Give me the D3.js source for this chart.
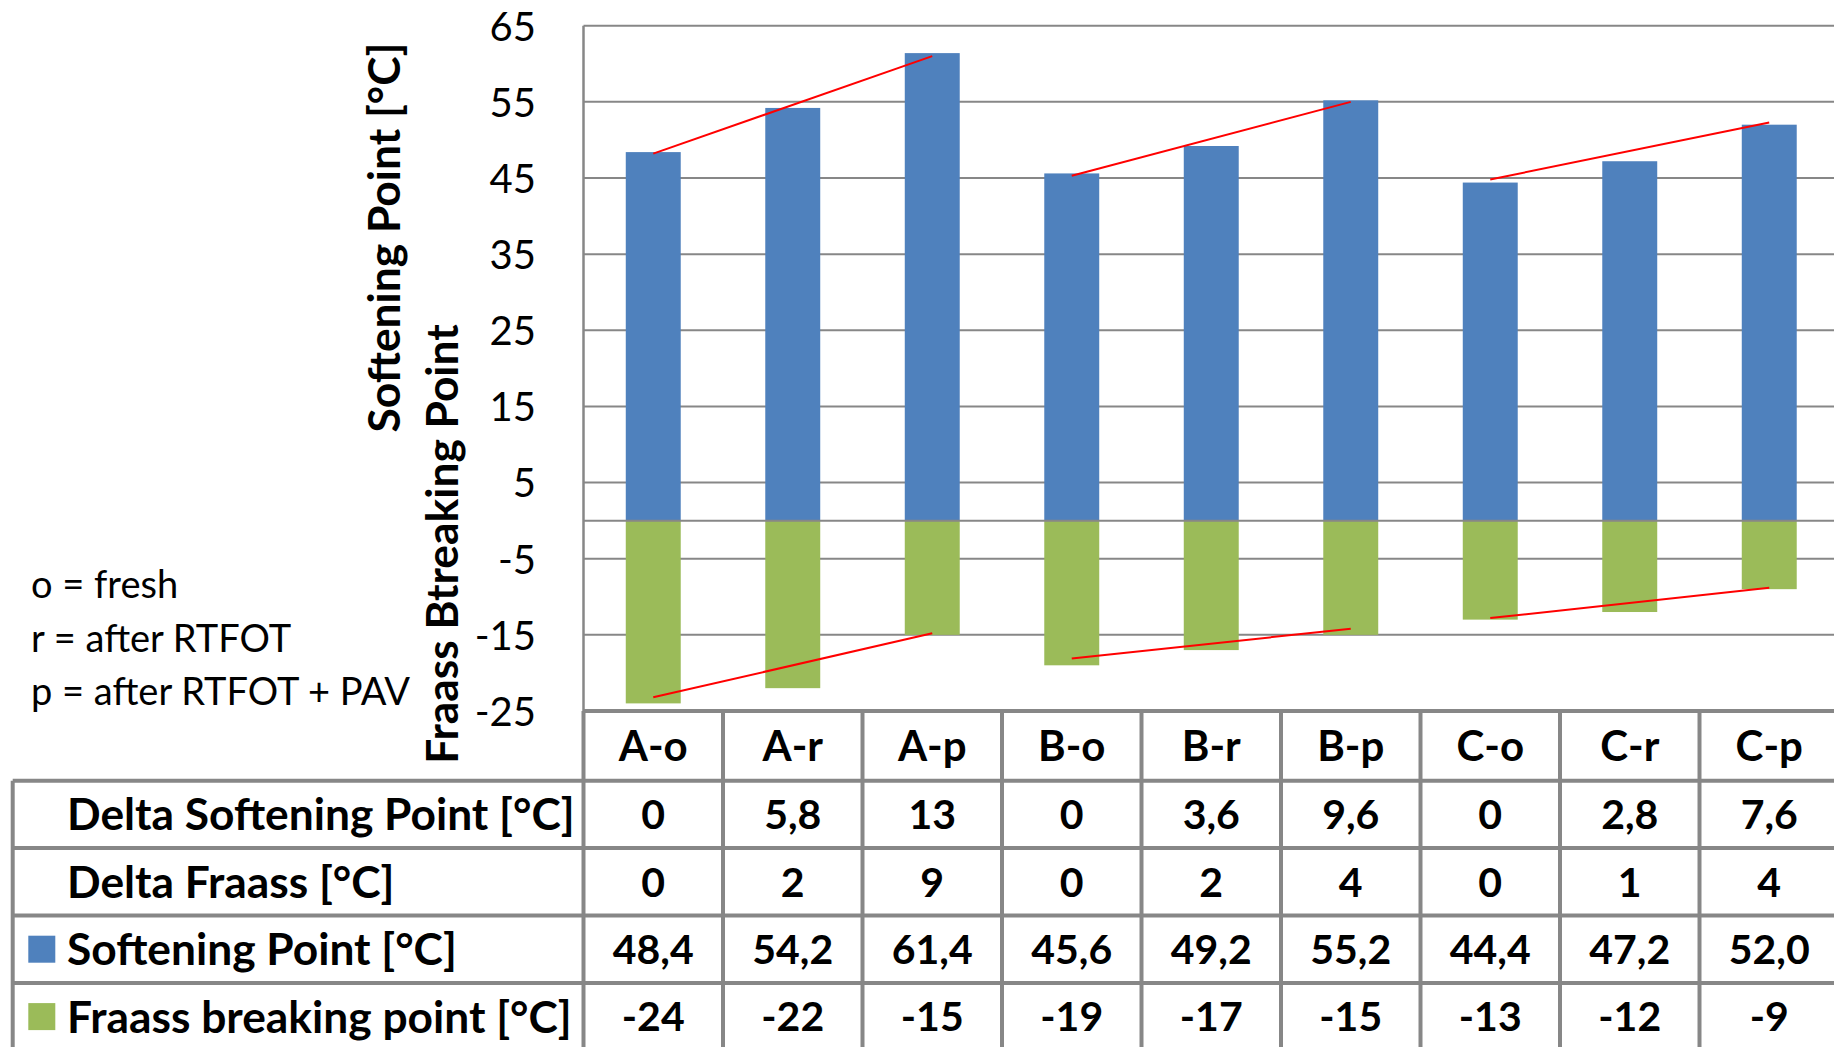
<!DOCTYPE html>
<html>
<head>
<meta charset="utf-8">
<script src="https://cdn.jsdelivr.net/npm/d3@7"></script>
<style>
  html, body { margin: 0; padding: 0; background: #fff; }
  svg { display: block; font-family: Lato, "Open Sans", sans-serif; }
</style>
</head>
<body>
<svg id="chart" width="1834" height="1047"></svg>
<script>
// Bitumen samples: o = fresh, r = after RTFOT, p = after RTFOT + PAV
const categories = ["A-o", "A-r", "A-p", "B-o", "B-r", "B-p", "C-o", "C-r", "C-p"];
const softening = [48.4, 54.2, 61.4, 45.6, 49.2, 55.2, 44.4, 47.2, 52.0];
const fraass = [-24, -22, -15, -19, -17, -15, -13, -12, -9];
const deltaSoftening = [0, 5.8, 13, 0, 3.6, 9.6, 0, 2.8, 7.6];
const deltaFraass = [0, 2, 9, 0, 2, 4, 0, 1, 4];
const yTicks = [65, 55, 45, 35, 25, 15, 5, -5, -15, -25];
const notes = ["o = fresh", "r = after RTFOT", "p = after RTFOT + PAV"];

// Ageing trend lines per binder (fresh -> after RTFOT + PAV)
const trendFrom = ["A-o", "B-o", "C-o"];
const trendTo = ["A-p", "B-p", "C-p"];
const softTrendStart = [48.2, 45.3, 44.8];
const softTrendEnd = [61.0, 55.0, 52.3];
const fraassTrendStart = [-23.2, -18.1, -12.8];
const fraassTrendEnd = [-14.8, -14.2, -8.8];

const rowLabels = ["Delta Softening Point [°C]", "Delta Fraass [°C]", "Softening Point [°C]", "Fraass breaking point [°C]"];
const rowSwatch = [null, null, "#4F81BD", "#9BBB59"];

const svg = d3.select("#chart");
const W = 1834, H = 1047;
svg.append("rect").attr("width", W).attr("height", H).attr("fill", "#fff");

const plotLeft = 583.5, step = 139.5;
const x = d3.scaleBand().domain(categories).range([plotLeft, plotLeft + step * categories.length]).padding(0);
const y = d3.scaleLinear().domain([-25, 65]).range([711, 25.7]);
const barW = x.bandwidth() * 0.394;
const cx = c => x(c) + x.bandwidth() / 2;

const grid = "#878787";
const BOLD = 41;
const LABEL = 44.3;

// horizontal gridlines
svg.append("g").selectAll("line").data(yTicks).join("line")
  .attr("x1", plotLeft).attr("x2", W)
  .attr("y1", d => y(d)).attr("y2", d => y(d))
  .attr("stroke", grid).attr("stroke-width", 2);

// bars
const bars = svg.append("g");
bars.selectAll("rect.soft").data(categories).join("rect").attr("class", "soft")
  .attr("x", d => cx(d) - barW / 2).attr("width", barW)
  .attr("y", (d, i) => y(softening[i])).attr("height", (d, i) => y(0) - y(softening[i]))
  .attr("fill", "#4F81BD");
bars.selectAll("rect.fr").data(categories).join("rect").attr("class", "fr")
  .attr("x", d => cx(d) - barW / 2).attr("width", barW)
  .attr("y", y(0)).attr("height", (d, i) => y(fraass[i]) - y(0))
  .attr("fill", "#9BBB59");

// category axis at zero
svg.append("line").attr("x1", plotLeft).attr("x2", W).attr("y1", y(0)).attr("y2", y(0))
  .attr("stroke", grid).attr("stroke-width", 2);

// value axis line
svg.append("line").attr("x1", plotLeft).attr("x2", plotLeft).attr("y1", y(65)).attr("y2", y(-25))
  .attr("stroke", grid).attr("stroke-width", 2.5);

// trend lines
const trends = svg.append("g").attr("stroke", "#FF0000").attr("stroke-width", 2);
trendFrom.forEach((c, i) => {
  trends.append("line").attr("x1", cx(c)).attr("x2", cx(trendTo[i]))
    .attr("y1", y(softTrendStart[i])).attr("y2", y(softTrendEnd[i]));
  trends.append("line").attr("x1", cx(c)).attr("x2", cx(trendTo[i]))
    .attr("y1", y(fraassTrendStart[i])).attr("y2", y(fraassTrendEnd[i]));
});

// value axis ticks (plain hyphen for negatives)
const yAxis = d3.axisLeft(y).tickValues(yTicks).tickSize(0).tickPadding(0).tickFormat(d => String(d));
const ga = svg.append("g").attr("transform", "translate(536,0)").call(yAxis);
ga.select(".domain").remove();
ga.selectAll("text").attr("font-family", "Lato").attr("font-size", 40).attr("fill", "#000").attr("dy", "0.36em");

// axis titles
svg.append("text").attr("transform", "translate(400,237.5) rotate(-90)")
  .attr("text-anchor", "middle").attr("font-weight", 700).attr("font-size", LABEL)
  .text("Softening Point [°C]");
svg.append("text").attr("transform", "translate(458,544) rotate(-90)")
  .attr("text-anchor", "middle").attr("font-weight", 700).attr("font-size", LABEL)
  .text("Fraass Btreaking Point");

// sample code notes
svg.append("g").selectAll("text").data(notes).join("text")
  .attr("x", 31).attr("y", (d, i) => 598 + i * 53.5)
  .attr("font-size", 38).text(d => d);

// data table
const tableLeft = 12.7;
const headerTop = y(-25), headerBottom = 780.7, rowH = 67.4;
const rowTop = i => headerBottom + i * rowH;
const fmtDelta = v => String(v).replace(".", ",");
const fmtSoft = v => d3.format(".1f")(v).replace(".", ",");
const rows = [deltaSoftening.map(fmtDelta), deltaFraass.map(String), softening.map(fmtSoft), fraass.map(String)];

const tbl = svg.append("g");
// header labels
tbl.selectAll("text.hdr").data(categories).join("text").attr("class", "hdr")
  .attr("x", d => cx(d)).attr("y", (headerTop + headerBottom) / 2).attr("dy", "0.36em")
  .attr("text-anchor", "middle").attr("font-weight", 700).attr("font-size", BOLD + 1).text(d => d);
// body cells
rows.forEach((vals, r) => {
  const mid = rowTop(r) + rowH / 2;
  tbl.append("g").selectAll("text").data(vals).join("text")
    .attr("x", (d, i) => cx(categories[i])).attr("y", mid).attr("dy", "0.36em")
    .attr("text-anchor", "middle").attr("font-weight", 700).attr("font-size", BOLD).text(d => d);
  if (rowSwatch[r]) {
    tbl.append("rect").attr("x", 28.3).attr("y", mid - 13.5).attr("width", 27).attr("height", 27).attr("fill", rowSwatch[r]);
  }
  tbl.append("text").attr("x", 67).attr("y", mid).attr("dy", "0.36em")
    .attr("font-weight", 700).attr("font-size", LABEL).text(rowLabels[r]);
});

// table grid
const tb = svg.append("g").attr("stroke", grid).attr("stroke-width", 4);
tb.append("line").attr("x1", plotLeft).attr("x2", W).attr("y1", headerTop).attr("y2", headerTop);
d3.range(rows.length).forEach(r => {
  tb.append("line").attr("x1", tableLeft).attr("x2", W).attr("y1", rowTop(r)).attr("y2", rowTop(r));
});
tb.append("line").attr("x1", tableLeft).attr("x2", tableLeft).attr("y1", rowTop(0)).attr("y2", H + 10);
categories.forEach(c => {
  tb.append("line").attr("x1", x(c)).attr("x2", x(c)).attr("y1", headerTop).attr("y2", H + 10);
});
</script>
</body>
</html>
